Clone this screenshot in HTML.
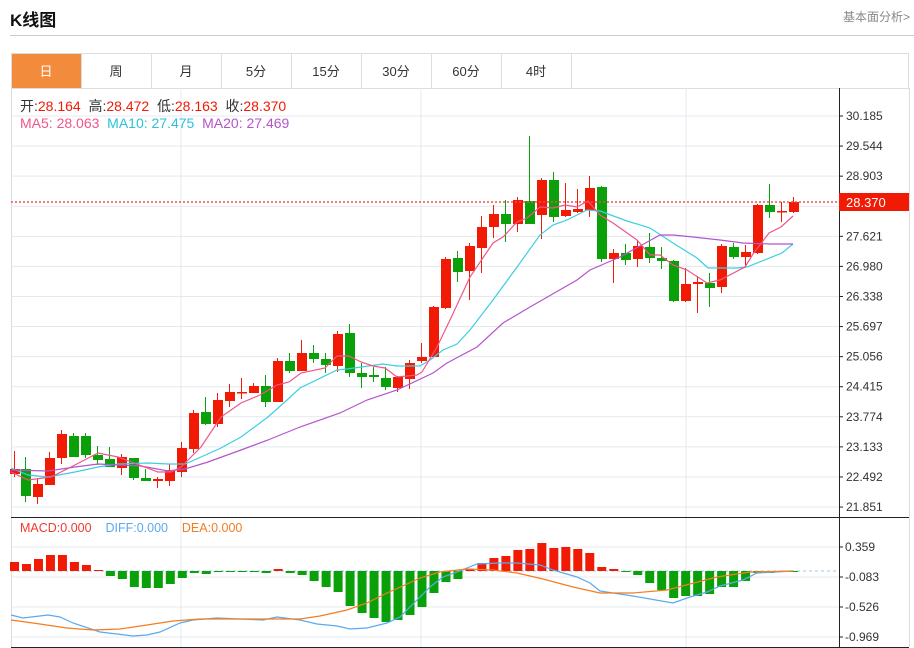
<!DOCTYPE html>
<html><head><meta charset="utf-8">
<style>
body{margin:0;width:914px;height:648px;background:#fff;font-family:"Liberation Sans","Noto Sans CJK SC",sans-serif;overflow:hidden;position:relative}
.t{position:absolute;white-space:nowrap}
</style></head><body>
<div class="t" style="left:10px;top:6px;font-size:17px;font-weight:bold;color:#111">K线图</div>
<div class="t" style="left:843px;top:8px;font-size:12px;color:#888">基本面分析&gt;</div>
<div style="position:absolute;left:10px;top:35px;width:904px;height:1px;background:#ccc"></div>
<svg id="s" width="914" height="648" style="position:absolute;left:0;top:0" xmlns="http://www.w3.org/2000/svg"></svg>
<script>
var S=document.getElementById('s');var h='';
function L(x1,y1,x2,y2,c,w,d){h+='<line x1="'+x1+'" y1="'+y1+'" x2="'+x2+'" y2="'+y2+'" stroke="'+c+'" stroke-width="'+(w||1)+'"'+(d?' stroke-dasharray="'+d+'"':'')+'/>';}
function R(x,y,w,hh,c,st){h+='<rect x="'+x+'" y="'+y+'" width="'+w+'" height="'+hh+'" fill="'+c+'"'+(st?' stroke="'+st+'"':'')+'/>';}
function T(x,y,s,c,sz,a){h+='<text x="'+x+'" y="'+y+'" fill="'+c+'" font-size="'+(sz||12)+'" font-family="Liberation Sans,Noto Sans CJK SC,sans-serif"'+(a?' text-anchor="'+a+'"':'')+'>'+s+'</text>';}
R(11.5,53.5,897,35,'#fff','#ddd');
var tabs=['日','周','月','5分','15分','30分','60分','4时'];
for(var i=0;i<8;i++){var x=11+i*70;if(i==0)R(12,54,69,34,'#f28c3c');L(x+70.5,53,x+70.5,88,'#ddd');T(x+35,76,tabs[i],i==0?'#fff':'#333',13,'middle');}
L(11.5,88,11.5,647,'#ddd');L(909.5,88,909.5,647,'#ddd');
for(var i=0;i<14;i++){var y=116+i*30.08;L(11,y,839,y,'#e4e9ef');}
[547,577,607,637].forEach(function(y){L(11,y,839,y,'#e4e9ef');});
[181,421,686].forEach(function(x){L(x,88,x,647,'#e4e9ef');});
L(839.5,88,839.5,647,'#222');L(11,517.5,909,517.5,'#222');L(11,647.5,909,647.5,'#222');
var labs=['30.185','29.544','28.903','28.262','27.621','26.980','26.338','25.697','25.056','24.415','23.774','23.133','22.492','21.851'];
for(var i=0;i<14;i++){var y=116+i*30.08;L(839,y,843,y,'#222');if(i!=3)T(846,y+4,labs[i],'#333',12);}
[['0.359',547],['-0.083',577],['-0.526',607],['-0.969',637]].forEach(function(a){L(839,a[1],843,a[1],'#222');T(845,a[1]+4,a[0],'#333',12);});
var C=[[14,474,469,451,477],[25,469,496,457,502],[37,497,484,479,504],[49,485,458,452,485],[61,458,434,430,464],[73,436,457,433,457],[85,436,455,433,458],[97,455,460,446,465],[109,459,467,447,467],[121,468,457,454,475],[133,458,478,458,480],[145,478,481,469,481],[157,481,479,477,488],[169,481,470,464,486],[181,472,448,442,477],[193,449,413,410,453],[205,412,424,397,425],[217,424,400,393,427],[229,401,392,384,407],[241,393,392,378,399],[253,393,386,383,393],[265,386,402,375,407],[277,402,361,358,402],[289,361,371,353,373],[301,371,353,340,371],[313,353,359,345,363],[325,359,365,353,373],[337,366,334,331,372],[349,333,373,324,377],[361,373,377,363,388],[373,375,377,367,382],[385,378,387,367,390],[397,388,377,376,392],[409,379,363,360,389],[421,361,357,343,363],[433,357,307,306,357],[445,308,259,257,309],[457,258,272,251,282],[469,271,246,243,300],[481,248,227,216,273],[493,227,214,205,238],[505,214,224,200,242],[517,224,200,197,232],[529,201,224,136,224],[541,215,180,178,239],[553,180,217,172,222],[565,216,210,183,217],[577,212,209,189,213],[589,210,188,176,217],[601,187,259,186,262],[613,259,253,249,283],[625,253,260,244,265],[637,259,246,240,267],[649,247,258,233,263],[661,258,261,247,269],[673,261,301,260,302],[685,301,284,268,302],[697,284,282,276,313],[709,283,288,273,307],[721,287,246,244,293],[733,247,257,243,259],[745,257,252,245,267],[757,253,205,204,254],[769,205,212,184,218],[781,212,211,202,222],[793,212,202,197,213]];
C.forEach(function(c){var up=c[2]<c[1];var col=up?'#f01a05':'#0aa00a';L(c[0]+0.5,c[3],c[0]+0.5,c[4],col,1);var t=Math.min(c[1],c[2]),b=Math.max(c[1],c[2]);R(c[0]-4,t,10,Math.max(b-t,1.5),col);});
function P(pts,col,w){h+='<polyline fill="none" stroke="'+col+'" stroke-width="'+(w||1.2)+'" points="'+pts.map(function(p){return p.join(',')}).join(' ')+'"/>';}
P([[11,468],[28,475],[48,477],[75,472],[98,467],[118,464],[148,463],[168,464],[185,464],[201,457],[221,448],[241,437],[268,417],[287,400],[300,388],[337,370],[347,369],[383,364],[397,366],[420,366],[430,360],[443,350],[457,344],[470,330],[493,300],[520,263],[540,235],[553,225],[567,220],[587,210],[600,211],[627,221],[650,228],[673,243],[697,258],[708,268],[737,268],[747,267],[782,253],[793,244]],'#3ccfe0');
P([[11,470],[48,471],[75,467],[98,464],[141,466],[168,471],[185,469],[208,462],[241,450],[268,440],[300,427],[340,413],[367,400],[397,390],[433,373],[447,363],[477,347],[503,323],[530,307],[577,280],[590,270],[620,257],[660,235],[673,235],[693,237],[720,240],[743,243],[770,244],[793,244]],'#b455cc');
P([[11,472],[28,480],[51,477],[71,467],[98,453],[118,457],[158,472],[171,472],[181,467],[201,447],[221,417],[241,403],[260,395],[277,385],[289,382],[301,373],[325,368],[337,356],[349,356],[361,362],[373,366],[385,368],[397,377],[417,375],[422,372],[437,347],[450,320],[470,277],[493,243],[503,237],[517,222],[527,218],[540,207],[553,208],[565,205],[577,207],[588,201],[600,215],[613,223],[637,240],[650,255],[660,255],[673,265],[687,270],[707,283],[720,280],[745,267],[753,254],[769,233],[781,227],[793,216]],'#f0558a');
L(11,202,839,202,'#f05050',1.5,'2,2');
R(839,193,70,18,'#f01a05');T(846,207,'28.370','#fff',13);
L(11,571,839,571,'#9cc8e8',1,'3,3');
var M=[562,564,559,555,555,562,565,570,576,579,587,588,588,584,578,573,574,572,571,572,572,573,569,573,575,581,587,592,606,613,618,622,620,615,607,593,582,579,569,563,558,556,550,549,543,548,547,549,553,567,569,572,575,583,590,598,596,596,594,587,587,581,573,573,572,572];
M.forEach(function(v,i){var x=14+i*11.985;var col=v<571?'#f01a05':'#0aa00a';var t=Math.min(v,571),b=Math.max(v,571);R(x-4,t,9,Math.max(b-t,1),col);});
P([[11,615],[23,618],[48,615],[60,617],[73,623],[100,632],[117,634],[133,636],[147,635],[160,632],[180,623],[193,620],[217,618],[240,619],[263,620],[277,617],[300,620],[317,624],[337,626],[350,629],[367,628],[387,623],[400,617],[417,600],[430,587],[443,577],[457,572],[477,564],[500,563],[517,563],[540,565],[553,570],[577,577],[590,583],[600,591],[633,596],[673,603],[690,597],[707,592],[720,586],[743,580],[757,573],[793,571]],'#5aaaf0');
P([[11,620],[33,623],[67,628],[93,630],[120,629],[147,625],[173,621],[200,619],[300,619],[320,616],[347,610],[367,603],[387,593],[407,584],[420,578],[440,572],[467,569],[493,570],[517,573],[543,579],[573,587],[600,593],[633,593],[667,590],[690,584],[717,577],[750,572],[793,571]],'#f57c20');
S.innerHTML=h;
</script>
<div class="t" style="left:20px;top:96px;font-size:14px;color:#333">开:<span style="color:#f01a05">28.164</span>&nbsp; 高:<span style="color:#f01a05">28.472</span>&nbsp; 低:<span style="color:#f01a05">28.163</span>&nbsp; 收:<span style="color:#f01a05">28.370</span></div>
<div class="t" style="left:20px;top:115px;font-size:14px"><span style="color:#f0558a">MA5: 28.063</span>&nbsp; <span style="color:#2cc0dc">MA10: 27.475</span>&nbsp; <span style="color:#b455cc">MA20: 27.469</span></div>
<div class="t" style="left:20px;top:521px;font-size:12.5px"><span style="color:#f03a30">MACD:0.000</span>&nbsp;&nbsp;&nbsp; <span style="color:#5aaaf0">DIFF:0.000</span>&nbsp;&nbsp;&nbsp; <span style="color:#f57c20">DEA:0.000</span></div>
</body></html>
